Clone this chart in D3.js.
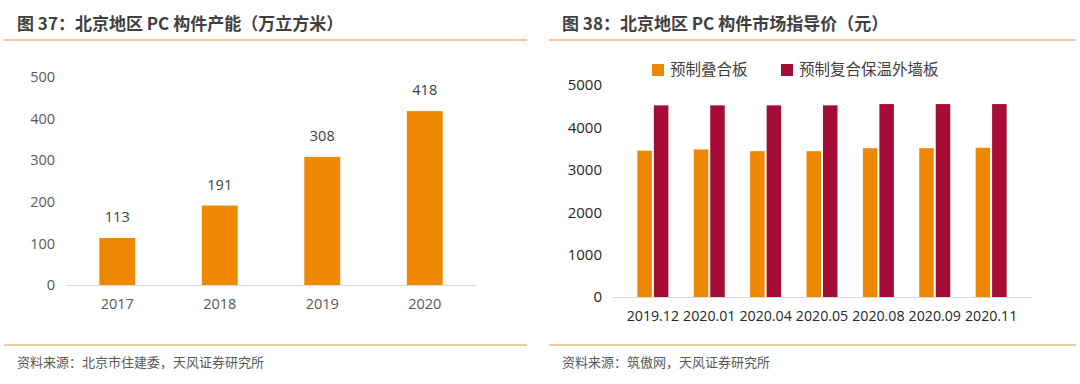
<!DOCTYPE html>
<html lang="zh">
<head>
<meta charset="UTF-8">
<title>北京地区 PC 构件</title>
<style>
  body { margin: 0; background: #fff; }
  svg { display: block; }
  .title { font-family: "Noto Sans CJK SC", sans-serif; font-weight: bold; font-size: 17px; fill: #404040; }
  .source { font-family: "Noto Sans CJK SC", sans-serif; font-size: 13px; fill: #595959; }
  .num { font-family: "Open Sans", "Noto Sans", sans-serif; }
</style>
</head>
<body>
<div id="chart"></div>
<script src="https://d3js.org/d3.v7.min.js"></script>
<script>
// left chart: capacity
const years = ["2017", "2018", "2019", "2020"];
const capacity = [113, 191, 308, 418];
const capTicks = [0, 100, 200, 300, 400, 500];

// right chart: guide price
const months = ["2019.12", "2020.01", "2020.04", "2020.05", "2020.08", "2020.09", "2020.11"];
const seriesNames = ["预制叠合板", "预制复合保温外墙板"];
const slabPrice = [3450, 3480, 3440, 3440, 3510, 3510, 3520];
const wallPrice = [4520, 4520, 4520, 4520, 4550, 4550, 4550];
const priceTicks = [0, 1000, 2000, 3000, 4000, 5000];

const ORANGE = "#ee8800";
const RED = "#a50d37";
const RULE = "#f0c9a0";

const svg = d3.select("#chart").append("svg")
    .attr("width", 1080)
    .attr("height", 384);

// panel frame: title, rules, source
function panel(x0, x1, title, source) {
    svg.append("text").attr("class", "title")
        .attr("x", x0 + 13).attr("y", 30).text(title);
    svg.append("line").attr("x1", x0).attr("x2", x1).attr("y1", 40).attr("y2", 40)
        .attr("stroke", RULE).attr("stroke-width", 2);
    svg.append("line").attr("x1", x0).attr("x2", x1).attr("y1", 345).attr("y2", 345)
        .attr("stroke", RULE).attr("stroke-width", 2);
    svg.append("text").attr("class", "source")
        .attr("x", x0 + 13).attr("y", 367).text(source);
}

panel(4, 527, "图 37：北京地区 PC 构件产能（万立方米）", "资料来源：北京市住建委，天风证券研究所");
panel(549, 1076, "图 38：北京地区 PC 构件市场指导价（元）", "资料来源：筑傲网，天风证券研究所");

// ---- left chart ----
{
    const x = d3.scaleBand().domain(years).range([66, 476]).paddingInner(0.65).paddingOuter(0.325);
    const y = d3.scaleLinear().domain([0, 500]).range([285, 77]);
    const g = svg.append("g");

    g.selectAll("rect").data(years).enter().append("rect")
        .attr("x", d => x(d))
        .attr("y", (d, i) => y(capacity[i]))
        .attr("width", x.bandwidth())
        .attr("height", (d, i) => y(0) - y(capacity[i]))
        .attr("fill", ORANGE);

    g.selectAll("text.val").data(years).enter().append("text")
        .attr("class", "num val")
        .attr("x", d => x(d) + x.bandwidth() / 2)
        .attr("y", (d, i) => y(capacity[i]) - 16)
        .attr("text-anchor", "middle")
        .attr("font-size", 14.5).attr("fill", "#404040")
        .text((d, i) => capacity[i]);

    const ya = g.append("g").attr("transform", "translate(66,0)")
        .call(d3.axisLeft(y).tickValues(capTicks).tickSize(0).tickPadding(11));
    ya.select(".domain").remove();
    ya.selectAll("text").attr("class", "num").attr("font-size", 14.5).attr("fill", "#595959");

    const xa = g.append("g").attr("transform", "translate(0,285)")
        .call(d3.axisBottom(x).tickSize(0).tickPadding(14));
    xa.select(".domain").attr("stroke", "#d9d9d9");
    xa.selectAll("text").attr("class", "num").attr("font-size", 14.5).attr("fill", "#595959");
}

// ---- right chart ----
{
    const x0 = d3.scaleBand().domain(months).range([612, 1032]).padding(0.45);
    const x1 = d3.scaleBand().domain(seriesNames).range([0, x0.bandwidth()]).paddingInner(0.12);
    const y = d3.scaleLinear().domain([0, 5000]).range([297, 85]);
    const colors = d3.scaleOrdinal().domain(seriesNames).range([ORANGE, RED]);
    const values = { "预制叠合板": slabPrice, "预制复合保温外墙板": wallPrice };
    const g = svg.append("g");

    const groups = g.selectAll("g.grp").data(months).enter().append("g")
        .attr("class", "grp")
        .attr("transform", d => `translate(${x0(d)},0)`);

    groups.selectAll("rect")
        .data((d, i) => seriesNames.map(s => ({ s, v: values[s][i] })))
        .enter().append("rect")
        .attr("x", d => x1(d.s))
        .attr("y", d => y(d.v))
        .attr("width", x1.bandwidth())
        .attr("height", d => y(0) - y(d.v))
        .attr("fill", d => colors(d.s));

    const ya = g.append("g").attr("transform", "translate(612,0)")
        .call(d3.axisLeft(y).tickValues(priceTicks).tickFormat(d3.format("d")).tickSize(0).tickPadding(10));
    ya.select(".domain").remove();
    ya.selectAll("text").attr("class", "num").attr("font-size", 15).attr("fill", "#262626");

    const xa = g.append("g").attr("transform", "translate(0,297)")
        .call(d3.axisBottom(x0).tickSize(0).tickPadding(14));
    xa.select(".domain").attr("stroke", "#d9d9d9");
    xa.selectAll("text").attr("class", "num").attr("font-size", 14.2).attr("fill", "#262626");

    // legend
    const legX = [652, 781];
    const leg = g.selectAll("g.leg").data(seriesNames).enter().append("g")
        .attr("class", "leg")
        .attr("transform", (d, i) => `translate(${legX[i]},70)`);
    leg.append("rect").attr("x", 0).attr("y", -6).attr("width", 12).attr("height", 12)
        .attr("fill", d => colors(d));
    leg.append("text").attr("x", 18).attr("y", 0).attr("dy", "0.35em")
        .attr("font-family", "'Noto Sans CJK SC', sans-serif")
        .attr("font-size", 15.5).attr("fill", "#404040")
        .text(d => d);
}
</script>
</body>
</html>
